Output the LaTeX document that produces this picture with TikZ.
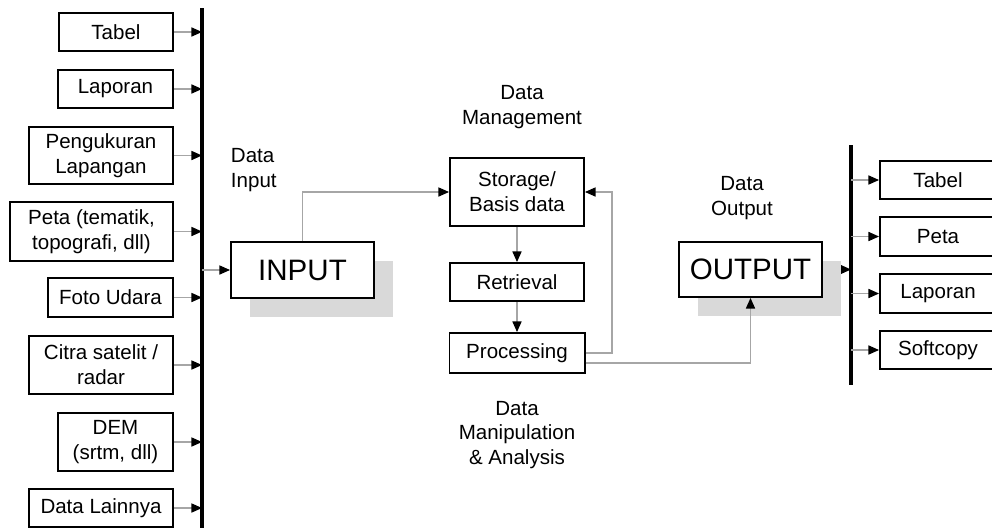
\documentclass[tikz,border=0pt]{standalone}
\usepackage{fontspec}
\setmainfont{Liberation Sans}
\usetikzlibrary{arrows.meta,shadows,backgrounds}

\tikzset{
    box/.style={draw, line width=1.4pt, fill=white, align=center, inner sep=1pt,
        font=\fontsize{14.6}{17.7}\selectfont},
    bigbox/.style={box, font=\fontsize{21}{24}\selectfont,
        drop shadow={shadow xshift=0.47cm, shadow yshift=-0.48cm, fill=black!15, opacity=1}},
    txt/.style={align=center, font=\fontsize{14.6}{17.7}\selectfont},
    link/.style={draw=black!35, line width=0.8pt, -{Triangle[length=7.5pt, width=6.5pt, color=black]}},
    bus/.style={line width=2.8pt},
}

\begin{document}
\begin{tikzpicture}[x=0.025cm, y=-0.025cm]
    \useasboundingbox (0,0) rectangle (992,527);
    \clip (0,0) rectangle (992,527);

    % batang pengumpul kiri dan kanan
    \coordinate (barLtop) at (202,8);
    \coordinate (barLbot) at (202,540);
    \coordinate (barRtop) at (851,145);
    \coordinate (barRbot) at (851,385);
    \draw[bus] (barLtop) -- (barLbot);
    \draw[bus] (barRtop) -- (barRbot);

    % sumber data masukan
    \node[box, anchor=east, minimum width=2.85cm, minimum height=0.95cm] (in1) at (174,32) {Tabel};
    \node[box, anchor=east, minimum width=2.875cm, minimum height=0.95cm] (in2) at (174,89) {Laporan};
    \node[box, anchor=east, minimum width=3.6cm, minimum height=1.425cm] (in3) at (174,155.5) {Pengukuran\\Lapangan};
    \node[box, anchor=east, minimum width=4.075cm, minimum height=1.475cm] (in4) at (174,231.5) {Peta (tematik,\\topografi, dll)};
    \node[box, anchor=east, minimum width=3.125cm, minimum height=0.975cm] (in5) at (174,297.5) {Foto Udara};
    \node[box, anchor=east, minimum width=3.6cm, minimum height=1.45cm] (in6) at (174,365) {Citra satelit /\\radar};
    \node[box, anchor=east, minimum width=2.875cm, minimum height=1.45cm] (in7) at (174,442) {DEM\\(srtm, dll)};
    \node[box, anchor=east, minimum width=3.6cm, minimum height=0.95cm] (in8) at (174,508) {Data Lainnya};
    \foreach \i in {1,...,8} {
        \draw[link] (in\i.east) -- (in\i.east -| barLtop);
    }

    % proses utama
    \node[bigbox, minimum width=3.575cm, minimum height=1.4cm] (input) at (302.5,270) {INPUT};
    \node[box, minimum width=3.35cm, minimum height=1.7cm] (storage) at (517,192) {Storage/\\Basis data};
    \node[box, minimum width=3.35cm, minimum height=0.95cm] (retrieval) at (517,282) {Retrieval};
    \node[box, minimum width=3.375cm, minimum height=1.0cm] (processing) at (517,353) {Processing};
    \node[bigbox, minimum width=3.575cm, minimum height=1.375cm] (output) at (750.5,269.5) {OUTPUT};

    % keterangan
    \node[txt, anchor=west, align=left] (lblin) at (226,170) {Data\\Input};
    \node[txt] (lblman) at (522,107) {Data\\Management};
    \node[txt] (lblout) at (742,198) {Data\\Output};
    \node[txt] (lblproc) at (517,435) {Data\\Manipulation\\\& Analysis};

    % hasil keluaran
    \node[box, anchor=west, minimum width=2.9cm, minimum height=0.95cm] (out1) at (879,180) {Tabel};
    \node[box, anchor=west, minimum width=2.9cm, minimum height=0.975cm] (out2) at (879,236.5) {Peta};
    \node[box, anchor=west, minimum width=2.9cm, minimum height=0.975cm] (out3) at (879,293.5) {Laporan};
    \node[box, anchor=west, minimum width=2.9cm, minimum height=0.95cm] (out4) at (879,350) {Softcopy};
    \foreach \i in {1,...,4} {
        \draw[link] (barRtop |- out\i.west) -- (out\i.west);
    }

    % alur data
    \coordinate (loop) at (612,192);
    \draw[link] (barLtop |- input.west) -- (input.west);
    \draw[link] (input.north) |- (storage.west);
    \draw[link] (storage) -- (retrieval);
    \draw[link] (retrieval) -- (processing);
    \draw[link] (processing.east) -| (loop) -- (storage.east);
    \draw[link] ([yshift=-0.25cm]processing.east) -| (output.south);
    \begin{scope}[on background layer]
        \draw[link] (output.east) -- (output.east -| barRtop);
    \end{scope}
\end{tikzpicture}
\end{document}
